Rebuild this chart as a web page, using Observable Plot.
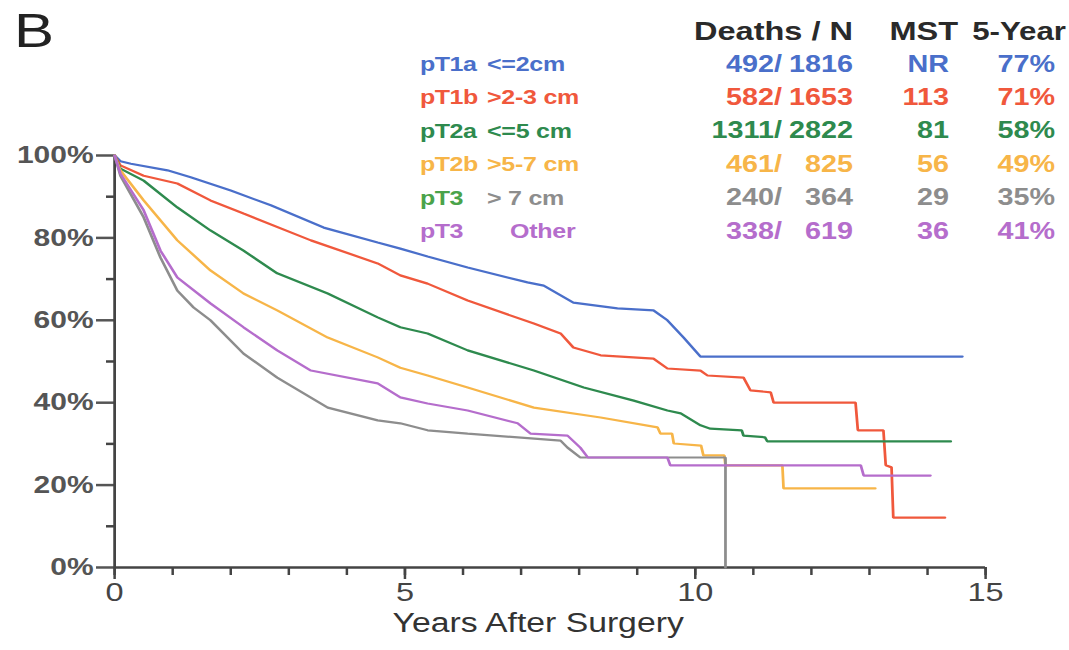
<!DOCTYPE html>
<html><head><meta charset="utf-8">
<script src="https://cdn.jsdelivr.net/npm/d3@7"></script>
<script src="https://cdn.jsdelivr.net/npm/@observablehq/plot@0.6"></script>
<style>
html,body{margin:0;padding:0;background:#fff;width:1069px;height:650px;overflow:hidden}
#wrap{position:absolute;left:0;top:0;height:650px;transform-origin:0 0;font-family:"Liberation Sans",Arial,sans-serif}
.t{position:absolute;white-space:nowrap;line-height:1;font-weight:bold}
</style></head><body><div id="wrap"></div>
<script>
// ---- data ----
const groups = ["pT1a", "pT1b", "pT2a", "pT2b", "pT3 >7cm", "pT3 Other"];
const lineColors = ["#4a6fca", "#f0583c", "#2e8a4e", "#f7b548", "#8d8d8d", "#b56dcc"];

const tT1a = [0, 0.1, 0.28, 0.91, 1.31, 2, 2.69, 3.6, 4.53, 4.92, 5.39, 6.08, 7.11, 7.39, 7.9, 8.66, 9.28, 9.52, 9.8, 10.09, 14.6];
const sT1a = [100, 98.6, 98, 96.4, 94.7, 91.5, 87.9, 82.5, 78.9, 77.4, 75.5, 72.8, 69.2, 68.4, 64.3, 62.9, 62.4, 60, 55.8, 51.2, 51.2];

const tT1b = [0, 0.1, 0.5, 1.08, 1.65, 2.22, 3.38, 4.53, 4.92, 5.39, 6.08, 7.22, 7.68, 7.9, 8.37, 9.28, 9.52, 10.09, 10.21, 10.83, 10.95, 11.3, 11.35, 12.76, 12.8, 13.24, 13.28, 13.38, 13.41, 14.3];
const sT1b = [100, 97.6, 95.1, 93.2, 89.1, 85.9, 79.4, 73.8, 70.9, 68.9, 64.8, 59.2, 56.8, 53.4, 51.5, 50.7, 48.3, 47.8, 46.6, 46.1, 43, 42.5, 40, 40, 33.3, 33.3, 24.8, 24.3, 12.1, 12.1];

const tT2a = [0, 0.1, 0.5, 1.08, 1.65, 2.22, 2.8, 3.67, 4.53, 4.92, 5.39, 6.08, 7.22, 8.08, 8.94, 9.52, 9.75, 10.09, 10.26, 10.8, 10.83, 11.2, 11.24, 14.4];
const sT2a = [100, 96.8, 93.9, 87.4, 81.8, 76.9, 71.4, 66.5, 60.7, 58.3, 56.8, 52.7, 47.8, 43.7, 40.5, 38.1, 37.4, 34.5, 33.7, 33.3, 32, 31.6, 30.6, 30.6];

const tT2b = [0, 0.1, 0.5, 1.08, 1.65, 2.22, 2.8, 3.67, 4.53, 4.92, 5.39, 6.08, 7.22, 8.37, 9.35, 9.4, 9.6, 9.63, 10.1, 10.14, 10.5, 10.52, 11.5, 11.52, 13.1];
const sT2b = [100, 96.4, 89.1, 79.4, 72.1, 66.5, 62.4, 55.8, 51, 48.5, 46.6, 43.7, 38.8, 36.4, 34, 32.5, 32.5, 30.1, 29.6, 27.2, 27.2, 24.8, 24.8, 19.2, 19.2];

const tT3big = [0, 0.1, 0.5, 0.79, 1.08, 1.36, 1.65, 2.22, 2.8, 3.67, 4.53, 4.92, 5.39, 6.08, 7.68, 7.8, 8.02, 10.52, 10.52];
const sT3big = [100, 95.1, 85, 75.2, 67.2, 63.1, 60, 51.9, 46.1, 38.8, 35.7, 35, 33.3, 32.5, 30.8, 29.1, 26.7, 26.7, 0];

const tT3oth = [0, 0.1, 0.5, 0.79, 1.08, 1.65, 2.22, 2.8, 3.38, 4.53, 4.92, 5.39, 6.08, 6.94, 7.16, 7.8, 8.02, 8.15, 9.52, 9.57, 12.85, 12.9, 14.05];
const sT3oth = [100, 95.6, 86.7, 76.9, 70.4, 64.1, 58.3, 52.7, 47.8, 44.7, 41.3, 39.8, 38.1, 35, 32.5, 32, 29.1, 26.7, 26.7, 24.8, 24.8, 22.3, 22.3];

// legend table
const stageLabels = ["pT1a", "pT1b", "pT2a", "pT2b", "pT3", "pT3"];
const sizeLabels = ["<=2cm", ">2-3 cm", "<=5 cm", ">5-7 cm", "> 7 cm", "Other"];
const deaths = [492, 582, 1311, 461, 240, 338];
const totals = [1816, 1653, 2822, 825, 364, 619];
const mst = ["NR", "113", "81", "56", "29", "36"];
const fiveYear = ["77%", "71%", "58%", "49%", "35%", "41%"];
const stageColors = ["#4a6fca", "#f0583c", "#2e8a4e", "#f7b548", "#4aa34a", "#b56dcc"];
const textColors = ["#4a6fca", "#f0583c", "#2e8a4e", "#f7b548", "#8d8d8d", "#b56dcc"];

const yTicks = [0, 20, 40, 60, 80, 100];
const yMinor = [10, 30, 50, 70, 90];
const xTicks = [0, 5, 10, 15];
const xMinor = d3.range(0, 16);

// ---- build ----
const curves = [[tT1a, sT1a], [tT1b, sT1b], [tT2a, sT2a], [tT2b, sT2b], [tT3big, sT3big], [tT3oth, sT3oth]];
const rows = groups.flatMap((g, i) => curves[i][0].map((t, j) => ({g, t, s: curves[i][1][j]})));

const SX = 1.25;             // horizontal stretch of the whole figure
const W0 = 1069 / SX;
const u = px => px / SX;     // page px -> unstretched units

const wrap = document.getElementById("wrap");
wrap.style.width = W0 + "px";
wrap.style.transform = `scaleX(${SX})`;

const ink = "#444";
const chart = Plot.plot({
  width: W0, height: 650,
  marginLeft: u(114), marginRight: u(1069 - 985), marginTop: 155, marginBottom: 83,
  style: {fontFamily: "Liberation Sans, Arial, sans-serif", background: "transparent", overflow: "visible"},
  x: {domain: [0, 15]},
  y: {domain: [0, 100]},
  color: {domain: groups, range: lineColors},
  marks: [
    Plot.axisY({ticks: yTicks, tickFormat: d => d + "%", tickSize: u(18), tickPadding: u(3), fontSize: 24, fontWeight: "bold", color: "#555", strokeWidth: 2.5, label: null}),
    Plot.axisY({ticks: yMinor, tickFormat: () => "", tickSize: u(8), color: ink, strokeWidth: 2.5, label: null}),
    Plot.axisX({ticks: xTicks, tickSize: 12, tickPadding: 3, fontSize: 26, color: "#444", strokeWidth: 2, label: null}),
    Plot.axisX({ticks: xMinor, tickFormat: () => "", tickSize: 8, color: ink, strokeWidth: 2, label: null}),
    Plot.ruleX([0], {stroke: ink, strokeWidth: 2.2}),
    Plot.ruleY([0], {stroke: ink, strokeWidth: 2.6}),
    Plot.line(rows, {x: "t", y: "s", z: "g", stroke: "g", strokeWidth: 2.2, strokeLinejoin: "miter"}),
    Plot.text(["Years After Surgery"], {frameAnchor: "bottom", dy: 65, dx: u(-12), fontSize: 27, fill: "#333"})
  ]
});
wrap.appendChild(chart);

function addText(txt, opts) {
  const d = document.createElement("div");
  d.className = "t";
  d.textContent = txt;
  d.style.fontSize = (opts.size || 24) + "px";
  d.style.color = opts.color || "#222";
  if (opts.weight) d.style.fontWeight = opts.weight;
  d.style.top = (opts.cy - 0.49 * (opts.size || 24)) + "px";
  if (opts.right != null) d.style.right = (W0 - u(opts.right)) + "px";
  else d.style.left = u(opts.left) + "px";
  if (opts.ls) d.style.letterSpacing = opts.ls + "px";
  wrap.appendChild(d);
}

addText("B", {left: 14, cy: 31, size: 48, weight: "normal", color: "#222"});
addText("Deaths / N", {right: 853, cy: 31, size: 26, color: "#2a2a2a"});
addText("MST", {right: 958, cy: 31, size: 26, color: "#2a2a2a"});
addText("5-Year", {right: 1066, cy: 31, size: 25, color: "#2a2a2a"});

const rowY = [64, 97, 130.5, 164, 197.5, 231];
stageLabels.forEach((s, i) => {
  addText(s, {left: 420, cy: rowY[i], size: 20, ls: -0.4, color: stageColors[i]});
  addText(sizeLabels[i], {left: i === 5 ? 510 : 487, cy: rowY[i], size: 20, ls: -0.2, color: textColors[i]});
  addText(deaths[i] + "/", {right: 782, cy: rowY[i], size: 23, color: textColors[i]});
  addText(String(totals[i]), {right: 853, cy: rowY[i], size: 23, color: textColors[i]});
  addText(mst[i], {right: 949, cy: rowY[i], size: 23, color: textColors[i]});
  addText(fiveYear[i], {right: 1055, cy: rowY[i], size: 23, color: textColors[i]});
});
</script></body></html>
